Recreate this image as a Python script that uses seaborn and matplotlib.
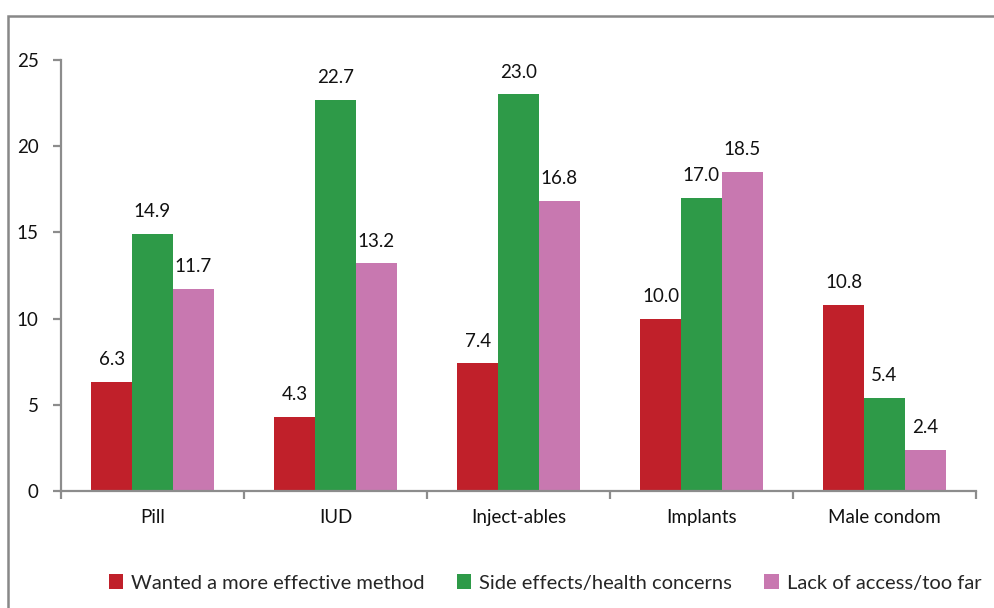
import matplotlib
matplotlib.use("Agg")
import matplotlib.pyplot as plt
from matplotlib.patches import Rectangle
import seaborn as sns
import pandas as pd

methods = ["Pill", "IUD", "Inject-ables", "Implants", "Male condom"]
reasons = ["Wanted a more effective method", "Side effects/health concerns", "Lack of access/too far"]
wanted_more_effective = [6.3, 4.3, 7.4, 10.0, 10.8]
side_effects = [14.9, 22.7, 23.0, 17.0, 5.4]
lack_of_access = [11.7, 13.2, 16.8, 18.5, 2.4]
colors = ["#C0202A", "#2E9A48", "#C878B0"]
yticks = [0, 5, 10, 15, 20, 25]

rows = []
for reason, vals in zip(reasons, [wanted_more_effective, side_effects, lack_of_access]):
    for m, v in zip(methods, vals):
        rows.append({"method": m, "reason": reason, "value": v})
df = pd.DataFrame(rows)

sns.set_style("white")
plt.rcParams["font.family"] = ["Lato", "DejaVu Sans"]

fs = 13.5
fig = plt.figure(figsize=(9.95, 6.08), dpi=100)
ax = fig.add_axes([61 / 995, 1 - 491 / 608, 915 / 995, 431 / 608])

sns.barplot(data=df, x="method", y="value", hue="reason", order=methods,
            hue_order=reasons, palette=colors, width=0.667, saturation=1,
            edgecolor="none", errorbar=None, ax=ax, legend=True)

for cont in ax.containers:
    ax.bar_label(cont, fmt="%.1f", padding=10, fontsize=fs, color="#111111")

ax.set_xlim(-0.5, len(methods) - 0.5)
ax.set_ylim(0, 25)
ax.set_yticks(yticks)
ax.set_xlabel("")
ax.set_ylabel("")

grey = "#8C8C8C"
for s in ["top", "right"]:
    ax.spines[s].set_visible(False)
for s in ["left", "bottom"]:
    ax.spines[s].set_color(grey)
    ax.spines[s].set_linewidth(1.6)

ax.tick_params(axis="y", which="major", length=6, width=1.6, color=grey,
               labelsize=fs, pad=10, left=True, labelcolor="#111111")
ax.tick_params(axis="x", which="major", length=0, labelsize=fs, pad=13,
               labelcolor="#111111")
ax.set_xticks([i - 0.5 for i in range(len(methods) + 1)], minor=True)
ax.tick_params(axis="x", which="minor", length=6, width=1.6, color=grey, bottom=True)

handles, labels = ax.get_legend_handles_labels()
ax.legend_.remove()
fig.legend(handles, labels, loc="center", bbox_to_anchor=(0.548, 1 - 583 / 608),
           ncol=3, frameon=False, fontsize=14.5, handlelength=0.7, handleheight=0.7,
           handletextpad=0.4, columnspacing=1.6)

fig.patches.append(Rectangle((8 / 995, -0.05), 1.1, 1 - 16 / 608 + 0.05,
                             transform=fig.transFigure, fill=False,
                             edgecolor="#888888", linewidth=1.8))

fig.savefig("out.png", dpi=100)
